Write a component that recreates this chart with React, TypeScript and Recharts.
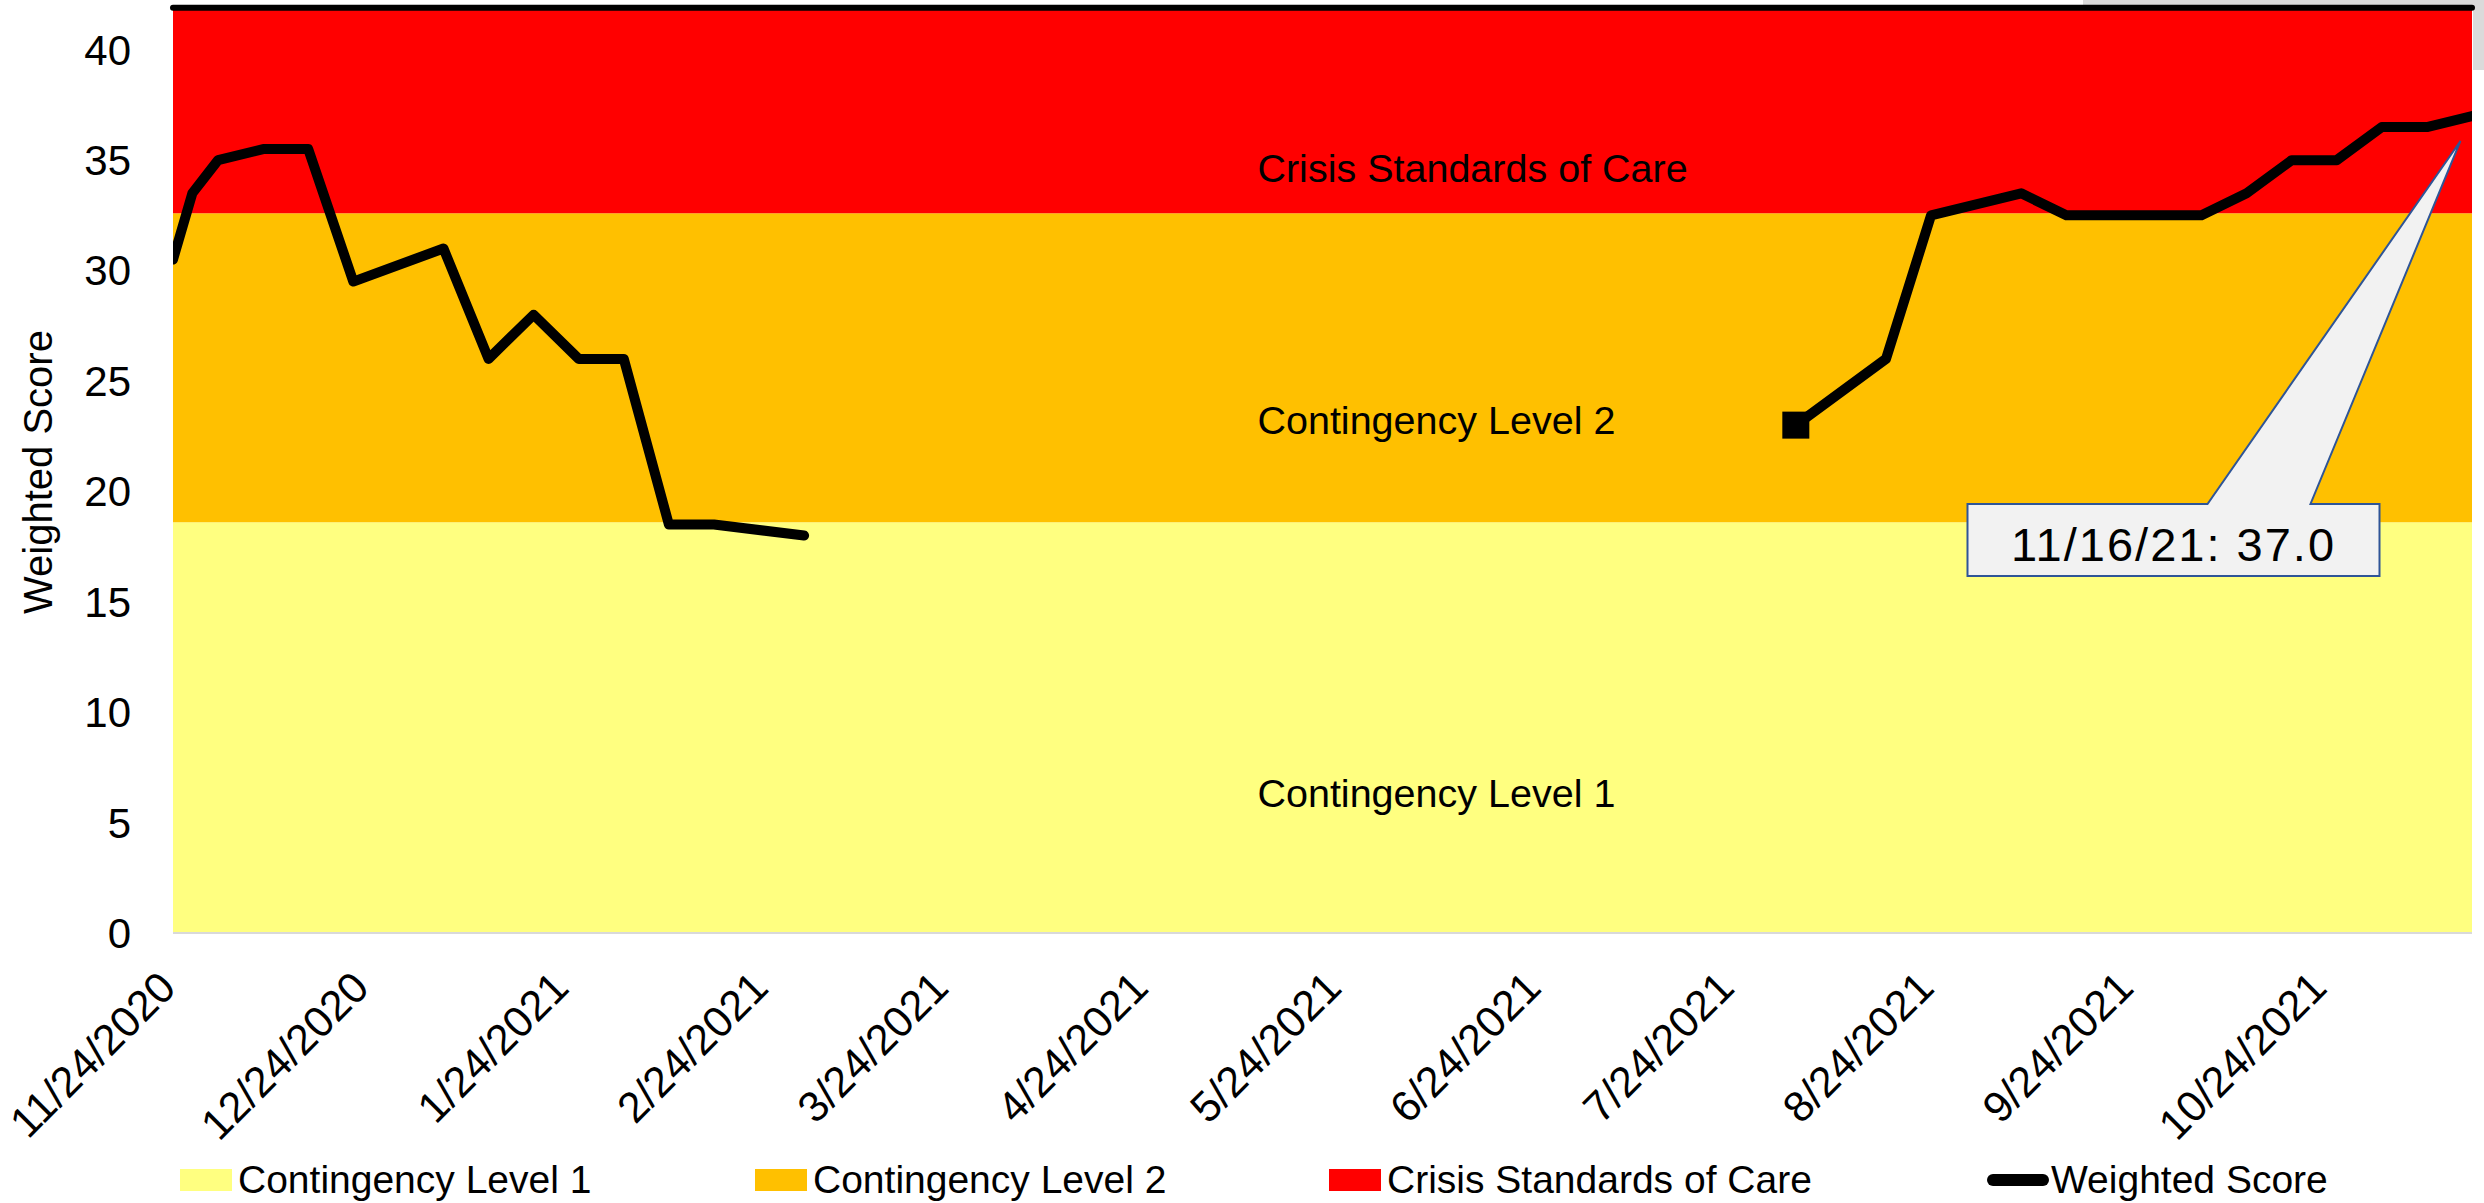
import React from 'react';
import {
  ComposedChart,
  Line,
  XAxis,
  YAxis,
  ReferenceArea,
  ReferenceLine,
  ReferenceDot,
} from 'recharts';

// weekly weighted score readings (null = no reporting)
const dates = [
  '2020-11-24', '2020-11-27', '2020-12-01', '2020-12-08', '2020-12-15', '2020-12-22',
  '2021-01-05', '2021-01-12', '2021-01-19', '2021-01-26', '2021-02-02', '2021-02-09',
  '2021-02-16', '2021-03-02', '2021-03-09',
  '2021-08-03', '2021-08-17', '2021-08-24', '2021-09-07', '2021-09-14', '2021-10-05',
  '2021-10-12', '2021-10-19', '2021-10-26', '2021-11-02', '2021-11-09', '2021-11-16',
];
const scores: (number | null)[] = [
  30.5, 33.5, 35.0, 35.5, 35.5, 29.5,
  31.0, 26.0, 28.0, 26.0, 26.0, 18.5,
  18.5, 18.0, null,
  23.0, 26.0, 32.5, 33.5, 32.5, 32.5,
  33.5, 35.0, 35.0, 36.5, 36.5, 37.0,
];

const tickDates = [
  '2020-11-24', '2020-12-24', '2021-01-24', '2021-02-24', '2021-03-24', '2021-04-24',
  '2021-05-24', '2021-06-24', '2021-07-24', '2021-08-24', '2021-09-24', '2021-10-24',
];
const yTicks = [0, 5, 10, 15, 20, 25, 30, 35, 40];

const bandNames = ['Contingency Level 1', 'Contingency Level 2', 'Crisis Standards of Care'];
const bandBounds = [0, 18.6, 32.6, 41.8];
const bandColors = ['#FFFF80', '#FFC000', '#FF0000'];
// where the band caption sits inside its band (fraction of width / height)
const bandTextPos = [
  { fx: 0.4717, fy: 0.692 },
  { fx: 0.4717, fy: 0.715 },
  { fx: 0.4717, fy: 0.847 },
];

const seriesName = 'Weighted Score';
const calloutText = '11/16/21: 37.0';
const markerDate = '2021-08-03';

const toTime = (s: string) => {
  const [y, m, d] = s.split('-').map(Number);
  return Date.UTC(y, m - 1, d);
};
const fmtDate = (t: number) => {
  const d = new Date(t);
  return `${d.getUTCMonth() + 1}/${d.getUTCDate()}/${d.getUTCFullYear()}`;
};

const data = dates.map((d, i) => ({ t: toTime(d), score: scores[i] }));
const ticks = tickDates.map(toTime);
const xMin = data[0].t;
const xMax = data[data.length - 1].t;
const lastScore = scores[scores.length - 1] as number;
const markerIndex = dates.indexOf(markerDate);

const FONT = '"Liberation Sans", Arial, sans-serif';

const DateTick = (props: any) => {
  const { x, y, payload } = props;
  const ax = x + 5;
  const ay = y + 57;
  return (
    <text
      x={ax}
      y={ay}
      transform={`rotate(-45 ${ax} ${ay})`}
      textAnchor="end"
      fontSize={43}
      fill="#000"
    >
      {fmtDate(payload.value)}
    </text>
  );
};

const ScoreDot = (props: any) => {
  const { cx, cy, index } = props;
  if (index !== markerIndex || cx == null || cy == null) return <g key={`d-${index}`} />;
  return <rect key={`d-${index}`} x={cx - 13.5} y={cy - 13.5} width={27} height={27} fill="#000" />;
};

const Callout = (props: any) => {
  const { cx, cy } = props;
  const left = cx - 504.5;
  const right = cx - 92.5;
  const top = cy + 388;
  const bottom = cy + 460;
  const path = `M${left},${top} L${cx - 264.5},${top} L${cx - 11.5},${cy + 25} L${cx - 161.5},${top} L${right},${top} L${right},${bottom} L${left},${bottom} Z`;
  return (
    <g>
      <path d={path} fill="#F2F2F2" stroke="#2F5597" strokeWidth={2} />
      <text x={cx - 298.5} y={cy + 445} textAnchor="middle" fontSize={47} letterSpacing={2} fill="#000">
        {calloutText}
      </text>
    </g>
  );
};

const bandLabel = (i: number) => (props: any) => {
  const vb = props.viewBox;
  if (!vb) return null;
  return (
    <text
      x={vb.x + vb.width * bandTextPos[i].fx}
      y={vb.y + vb.height * bandTextPos[i].fy}
      fontSize={39.5}
      fill="#000"
    >
      {bandNames[i]}
    </text>
  );
};

const legendX = [180, 755, 1329, 1987];

const Legend = () => (
  <div style={{ position: 'absolute', left: 0, top: 1160, width: 2484, height: 40, fontFamily: FONT }}>
    {bandNames.map((name, i) => (
      <div key={name} style={{ position: 'absolute', left: legendX[i], top: 0, display: 'flex', alignItems: 'center', height: 40 }}>
        <div style={{ width: 52, height: 22, background: bandColors[i], marginRight: 6 }} />
        <span style={{ fontSize: 39, lineHeight: '40px', whiteSpace: 'nowrap' }}>{name}</span>
      </div>
    ))}
    <div style={{ position: 'absolute', left: legendX[3], top: 0, display: 'flex', alignItems: 'center', height: 40 }}>
      <div style={{ width: 62, height: 12, background: '#000', borderRadius: 6, marginRight: 2 }} />
      <span style={{ fontSize: 39, lineHeight: '40px', whiteSpace: 'nowrap' }}>{seriesName}</span>
    </div>
  </div>
);

export default function App() {
  return (
    <div style={{ position: 'absolute', left: 0, top: 0, width: 2484, height: 1203, background: '#fff', fontFamily: FONT }}>
      <div style={{ position: 'absolute', left: 2083, top: 0, width: 401, height: 6, background: '#DADADA' }} />
      <div style={{ position: 'absolute', left: 2473, top: 0, width: 11, height: 70, background: '#DADADA' }} />
      <ComposedChart
        width={2484}
        height={1203}
        data={data}
        margin={{ top: 10, right: 12, bottom: 0, left: 0 }}
        style={{ position: 'absolute', left: 0, top: 0 }}
      >
        <XAxis
          dataKey="t"
          type="number"
          domain={[xMin, xMax]}
          ticks={ticks}
          tick={<DateTick />}
          tickLine={false}
          tickSize={0}
          tickMargin={0}
          height={270}
          axisLine={{ stroke: '#D9D9D9', strokeWidth: 2 }}
          interval={0}
          allowDataOverflow
        />
        <YAxis
          type="number"
          domain={[bandBounds[0], bandBounds[3]]}
          ticks={yTicks}
          width={173}
          tickLine={false}
          axisLine={false}
          tickSize={0}
          tickMargin={42}
          tick={{ fontSize: 42, fill: '#000' }}
          allowDataOverflow
          label={(p: any) => (
            <text
              x={52}
              y={472}
              transform="rotate(-90 52 472)"
              textAnchor="middle"
              fontSize={40}
              fill="#000"
            >
              {seriesName}
            </text>
          )}
        />
        {bandNames.map((name, i) => (
          <ReferenceArea
            key={name}
            y1={bandBounds[i]}
            y2={bandBounds[i + 1]}
            fill={bandColors[i]}
            fillOpacity={1}
            stroke="none"
            ifOverflow="visible"
            label={bandLabel(i)}
          />
        ))}
        <ReferenceLine y={41.9} stroke="#000" strokeWidth={6} strokeLinecap="round" ifOverflow="visible" />
        <Line
          dataKey="score"
          name={seriesName}
          type="linear"
          stroke="#000"
          strokeWidth={10}
          strokeLinejoin="round"
          strokeLinecap="round"
          dot={ScoreDot}
          activeDot={false}
          connectNulls={false}
          isAnimationActive={false}
        />
        <ReferenceDot x={xMax} y={lastScore} r={0} shape={Callout} ifOverflow="visible" />
      </ComposedChart>
      <Legend />
    </div>
  );
}
